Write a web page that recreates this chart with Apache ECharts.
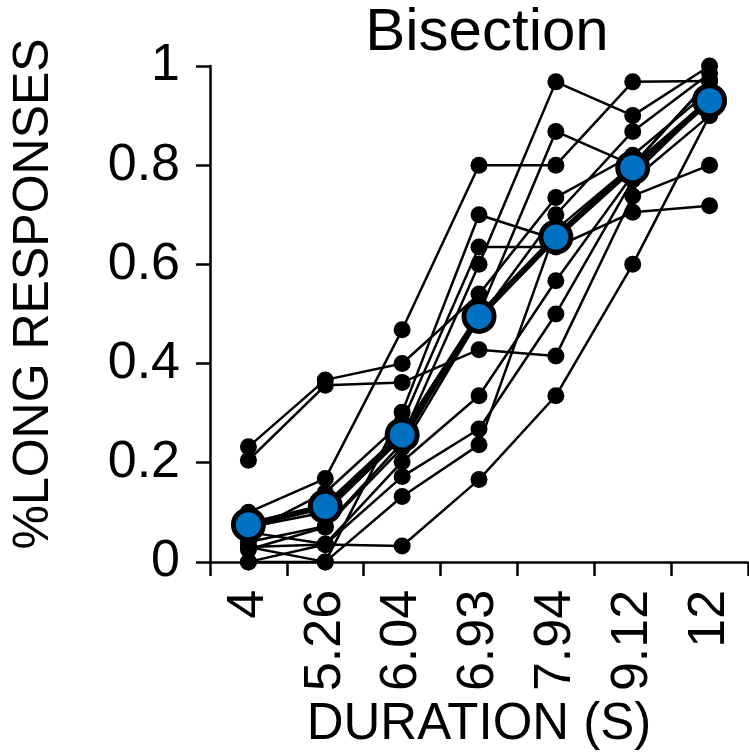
<!DOCTYPE html>
<html>
<head>
<meta charset="utf-8">
<script src="https://cdn.jsdelivr.net/npm/echarts@6/dist/echarts.min.js"></script>
<style>
html,body{margin:0;padding:0;background:#fff;}
#chart{width:749px;height:755px;}
</style>
</head>
<body>
<div id="chart"></div>
<script>
var categories = ['4', '5.26', '6.04', '6.93', '7.94', '9.12', '12'];
var yTicks = [0, 0.2, 0.4, 0.6, 0.8, 1];

var p1  = [0.205, 0.356, 0.362, 0.428, 0.415, 0.738, 0.80];
var p2  = [0.232, 0.367, 0.400, 0.540, 0.735, 0.820, 0.95];
var p3  = [0.030, 0.035, 0.032, 0.166, 0.335, 0.600, 0.90];
var p4  = [0.100, 0.168, 0.468, 0.800, 0.800, 0.968, 0.97];
var p5  = [0.000, 0.000, 0.302, 0.700, 0.650, 0.800, 0.93];
var p6  = [0.060, 0.140, 0.282, 0.635, 0.635, 0.705, 0.718];
var p7  = [0.070, 0.100, 0.250, 0.600, 0.968, 0.900, 1.00];
var p8  = [0.040, 0.072, 0.240, 0.500, 0.868, 0.800, 0.97];
var p9  = [0.025, 0.070, 0.230, 0.490, 0.700, 0.868, 0.985];
var p10 = [0.060, 0.036, 0.202, 0.335, 0.567, 0.780, 0.93];
var p11 = [0.000, 0.035, 0.172, 0.268, 0.500, 0.770, 0.90];
var p12 = [0.030, 0.000, 0.132, 0.236, 0.670, 0.800, 0.97];
var meanValues = [0.075, 0.112, 0.256, 0.495, 0.655, 0.795, 0.93];

var participants = [p1, p2, p3, p4, p5, p6, p7, p8, p9, p10, p11, p12];
var FONT = 'Liberation Sans, Arial, sans-serif';

var series = participants.map(function (d, i) {
  return {
    type: 'line', name: 'P' + (i + 1), data: d,
    symbol: 'circle', symbolSize: 17, clip: false,
    itemStyle: { color: '#000' },
    lineStyle: { color: '#000', width: 2.5 },
    z: 2, animation: false
  };
});
series.push({
  type: 'line', name: 'Mean', data: meanValues,
  symbol: 'circle', symbolSize: 30, clip: false,
  itemStyle: { color: '#0070C0', borderColor: '#000', borderWidth: 5 },
  lineStyle: { color: '#000', width: 6 },
  z: 5, animation: false
});

var chart = echarts.init(document.getElementById('chart'), null, { renderer: 'canvas' });
chart.setOption({
  backgroundColor: '#fff',
  animation: false,
  title: {
    text: 'Bisection', left: 482, top: -2, textAlign: 'center',
    textStyle: { fontFamily: FONT, fontSize: 60, fontWeight: 'normal', color: '#000' }
  },
  grid: { left: 210, right: 1, top: 66, bottom: 189, containLabel: false },
  xAxis: {
    type: 'category', data: categories, boundaryGap: true,
    name: 'DURATION (S)', nameLocation: 'middle', nameGap: 153,
    nameTextStyle: { fontFamily: FONT, fontSize: 51, color: '#000', verticalAlign: 'middle' },
    axisLine: { lineStyle: { color: '#000', width: 2.5 } },
    axisTick: { show: true, length: 14, lineStyle: { color: '#000', width: 2.5 } },
    axisLabel: { rotate: 90, interval: 0, margin: 28, fontFamily: FONT, fontSize: 52, color: '#000' },
    splitLine: { show: false }
  },
  yAxis: {
    type: 'value', min: 0, max: 1, interval: 0.2,
    name: '%LONG RESPONSES', nameLocation: 'middle', nameGap: 151,
    nameTextStyle: { fontFamily: FONT, fontSize: 50, color: '#000', padding: [0, 0, 0, 40] },
    axisLine: { show: true, lineStyle: { color: '#000', width: 2.5 } },
    axisTick: { show: true, length: 14, lineStyle: { color: '#000', width: 2.5 } },
    axisLabel: {
      margin: 30, fontFamily: FONT, fontSize: 52, color: '#000',
      formatter: function (v) {
        for (var i = 0; i < yTicks.length; i++) { if (Math.abs(yTicks[i] - v) < 1e-9) return String(yTicks[i]); }
        return '';
      }
    },
    splitLine: { show: false }
  },
  series: series
});
</script>
</body>
</html>
